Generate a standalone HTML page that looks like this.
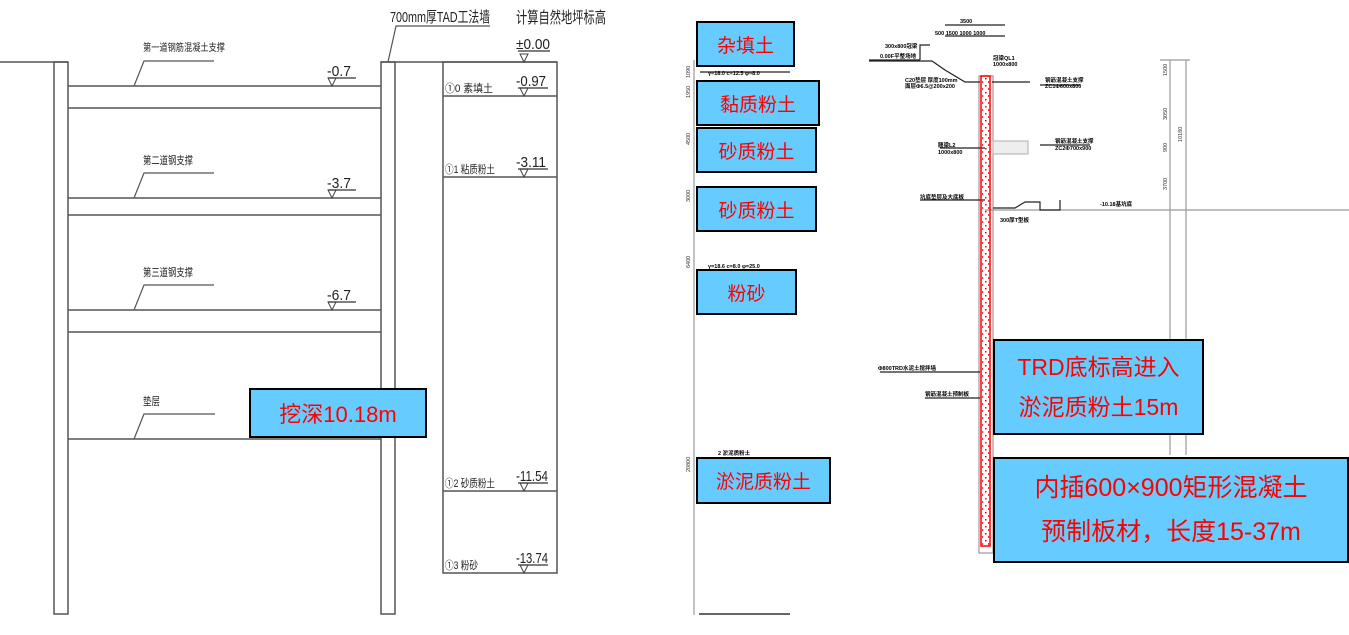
<!DOCTYPE html>
<html><head><meta charset="utf-8"><style>
html,body{margin:0;padding:0;background:#fff;}
body{width:1349px;height:635px;position:relative;overflow:hidden;font-family:"Liberation Sans","Noto Sans CJK SC",sans-serif;}
.box{position:absolute;background:#66ccff;border:2px solid #000;box-sizing:border-box;color:#f00;display:flex;align-items:center;justify-content:center;text-align:center;white-space:nowrap;}
</style></head><body>
<svg width="1349" height="635" style="position:absolute;left:0;top:0" font-family="Liberation Sans, Noto Sans CJK SC, sans-serif">
<defs>
<pattern id="dots" width="6" height="7" patternUnits="userSpaceOnUse">
<rect x="1" y="1" width="1.5" height="1.5" fill="#f00"/><rect x="4" y="4" width="1.2" height="2" fill="#f33"/>
</pattern>
</defs>
<g stroke="#555" stroke-width="1.5" fill="none">
<line x1="0" y1="62" x2="68" y2="62"/>
<rect x="54" y="62" width="14" height="552"/>
<rect x="381" y="62" width="14" height="552"/>
<line x1="381" y1="62" x2="557" y2="62"/>
<line x1="68" y1="86" x2="381" y2="86"/><line x1="68" y1="108" x2="381" y2="108"/>
<line x1="68" y1="198" x2="381" y2="198"/><line x1="68" y1="215" x2="381" y2="215"/>
<line x1="68" y1="310" x2="381" y2="310"/><line x1="68" y1="332" x2="381" y2="332"/>
<line x1="68" y1="439" x2="381" y2="439"/>
<polyline points="134,86 144,61 214,61" stroke-width="1.2"/>
<polyline points="134,198 144,173 214,173" stroke-width="1.2"/>
<polyline points="134,310 144,285 214,285" stroke-width="1.2"/>
<polyline points="134,439 144,414 215,414" stroke-width="1.2"/>
<polyline points="388,62 396,26 490,26" stroke-width="1.2"/>
<rect x="443" y="62" width="114" height="511"/>
<line x1="443" y1="96" x2="557" y2="96"/>
<line x1="443" y1="177" x2="557" y2="177"/>
<line x1="443" y1="491" x2="557" y2="491"/>
<line x1="328" y1="78" x2="356" y2="78"/><line x1="328" y1="190" x2="356" y2="190"/><line x1="328" y1="302" x2="356" y2="302"/>
<line x1="518" y1="51" x2="550" y2="51"/><line x1="518" y1="88" x2="548" y2="88"/><line x1="518" y1="169" x2="548" y2="169"/>
<line x1="518" y1="483" x2="548" y2="483"/><line x1="518" y1="565" x2="548" y2="565"/>
</g>
<g stroke="#444" stroke-width="1" fill="none">
<path d="M328,78 L336,78 L332,86 Z"/><path d="M328,190 L336,190 L332,198 Z"/><path d="M328,302 L336,302 L332,310 Z"/>
<path d="M520,54 L528,54 L524,62 Z"/><path d="M520,88 L528,88 L524,96 Z"/><path d="M520,169 L528,169 L524,177 Z"/>
<path d="M520,483 L528,483 L524,491 Z"/><path d="M520,565 L528,565 L524,573 Z"/>
</g>
<g fill="#222">
<text x="143" y="51" font-size="10" textLength="82" lengthAdjust="spacingAndGlyphs">第一道钢筋混凝土支撑</text>
<text x="143" y="164" font-size="11" textLength="50" lengthAdjust="spacingAndGlyphs">第二道钢支撑</text>
<text x="143" y="276" font-size="11" textLength="50" lengthAdjust="spacingAndGlyphs">第三道钢支撑</text>
<text x="143" y="405" font-size="11" textLength="17" lengthAdjust="spacingAndGlyphs">垫层</text>
<text x="390" y="22" font-size="15" textLength="100" lengthAdjust="spacingAndGlyphs">700mm厚TAD工法墙</text>
<text x="516" y="23" font-size="16" textLength="90" lengthAdjust="spacingAndGlyphs">计算自然地坪标高</text>
<text x="516" y="49" font-size="15" textLength="34" lengthAdjust="spacingAndGlyphs">±0.00</text>
<text x="327" y="76" font-size="15" textLength="24" lengthAdjust="spacingAndGlyphs">-0.7</text>
<text x="327" y="188" font-size="15" textLength="24" lengthAdjust="spacingAndGlyphs">-3.7</text>
<text x="327" y="300" font-size="15" textLength="24" lengthAdjust="spacingAndGlyphs">-6.7</text>
<text x="516" y="86" font-size="15" textLength="30" lengthAdjust="spacingAndGlyphs">-0.97</text>
<text x="516" y="167" font-size="15" textLength="30" lengthAdjust="spacingAndGlyphs">-3.11</text>
<text x="516" y="481" font-size="15" textLength="32" lengthAdjust="spacingAndGlyphs">-11.54</text>
<text x="516" y="563" font-size="15" textLength="32" lengthAdjust="spacingAndGlyphs">-13.74</text>
<text x="445" y="92" font-size="11" textLength="48" lengthAdjust="spacingAndGlyphs">①0 素填土</text>
<text x="445" y="173" font-size="11" textLength="50" lengthAdjust="spacingAndGlyphs">①1 粘质粉土</text>
<text x="445" y="487" font-size="11" textLength="50" lengthAdjust="spacingAndGlyphs">①2 砂质粉土</text>
<text x="445" y="569" font-size="11" textLength="33" lengthAdjust="spacingAndGlyphs">①3 粉砂</text>
</g>
<g stroke="#999" stroke-width="1.2" fill="none">
<line x1="694" y1="60" x2="694" y2="615"/>
<line x1="1170" y1="60" x2="1170" y2="455"/>
<line x1="1186" y1="60" x2="1186" y2="455"/>
<line x1="985" y1="210" x2="1349" y2="210"/>
<line x1="1160" y1="60" x2="1190" y2="60"/>
<rect x="979" y="76" width="14" height="477"/>
</g>
<line x1="699" y1="614" x2="790" y2="614" stroke="#333" stroke-width="1.5"/>
<g stroke="#222" stroke-width="1.2" fill="none">
<line x1="700" y1="72" x2="790" y2="72"/>
<line x1="869" y1="60" x2="920" y2="60"/>
<polyline points="920,60 920,45 930,45"/>
<polyline points="869,61 932,61 945,70 965,82 980,82"/>
<line x1="992" y1="82" x2="1030" y2="82"/>
<line x1="1040" y1="85" x2="1080" y2="85"/>
<line x1="940" y1="148" x2="985" y2="148"/>
<line x1="1040" y1="145" x2="1090" y2="145"/>
<rect x="993" y="141" width="35" height="13" stroke="#bbb" fill="#eee"/>
<line x1="920" y1="200" x2="985" y2="200"/>
<polyline points="993,208 1015,208 1025,202 1040,202 1040,210 1060,210 1060,200"/>
<line x1="945" y1="25" x2="1005" y2="25"/>
<line x1="945" y1="36" x2="1005" y2="36"/>
<line x1="880" y1="372" x2="980" y2="372"/>
<line x1="925" y1="398" x2="980" y2="398"/>
</g>
<rect x="981" y="76" width="9" height="470" fill="url(#dots)" stroke="#f00" stroke-width="1.5"/>
<g fill="#000" font-size="5.5" font-weight="bold">
<text x="960" y="23">3500</text>
<text x="935" y="35">500 1500 1000 1000</text>
<text x="885" y="48">300x800冠梁</text>
<text x="880" y="58">0.00F平整场地</text>
<text x="905" y="82">C20垫层 厚度100mm</text>
<text x="905" y="88">面层Φ6.5@200x200</text>
<text x="993" y="60">冠梁QL1</text>
<text x="993" y="66">1000x800</text>
<text x="1045" y="82">钢筋混凝土支撑</text>
<text x="1045" y="88">ZC1Φ600x800</text>
<text x="938" y="147">腰梁L2</text>
<text x="938" y="154">1000x800</text>
<text x="1055" y="143">钢筋混凝土支撑</text>
<text x="1055" y="150">ZC2Φ700x900</text>
<text x="920" y="199">坑底垫层及大底板</text>
<text x="1000" y="222">300厚T型板</text>
<text x="1100" y="206">-10.18基坑底</text>
<text x="878" y="370">Φ800TRD水泥土搅拌墙</text>
<text x="925" y="396">钢筋混凝土预制板</text>
<text x="708" y="75">γ=18.0 c=12.5 φ=8.0</text>
<text x="708" y="268">γ=18.6 c=8.0 φ=25.0</text>
<text x="718" y="455">2 淤泥质粉土</text>
</g>
<g fill="#333" font-size="5.5">
<text transform="translate(690,78) rotate(-90)">1090</text>
<text transform="translate(690,98) rotate(-90)">1950</text>
<text transform="translate(690,145) rotate(-90)">4500</text>
<text transform="translate(690,202) rotate(-90)">3000</text>
<text transform="translate(690,268) rotate(-90)">6400</text>
<text transform="translate(690,472) rotate(-90)">20800</text>
<text transform="translate(1167,76) rotate(-90)">1500</text>
<text transform="translate(1167,120) rotate(-90)">3050</text>
<text transform="translate(1167,152) rotate(-90)">900</text>
<text transform="translate(1167,190) rotate(-90)">3700</text>
<text transform="translate(1182,142) rotate(-90)">10180</text>
</g>
</svg>

<div class="box" style="left:249px;top:388px;width:178px;height:50px;font-size:22px;">挖深10.18m</div>
<div class="box" style="left:696px;top:21px;width:99px;height:46px;font-size:19px;">杂填土</div>
<div class="box" style="left:696px;top:80px;width:124px;height:46px;font-size:19px;">黏质粉土</div>
<div class="box" style="left:696px;top:127px;width:121px;height:46px;font-size:19px;">砂质粉土</div>
<div class="box" style="left:696px;top:186px;width:121px;height:46px;font-size:19px;">砂质粉土</div>
<div class="box" style="left:696px;top:269px;width:101px;height:46px;font-size:19px;">粉砂</div>
<div class="box" style="left:696px;top:457px;width:135px;height:47px;font-size:19px;">淤泥质粉土</div>
<div class="box" style="left:993px;top:339px;width:211px;height:96px;font-size:23px;line-height:40px;">TRD底标高进入<br>淤泥质粉土15m</div>
<div class="box" style="left:993px;top:457px;width:356px;height:106px;font-size:25px;line-height:44px;">内插600×900矩形混凝土<br>预制板材，长度15-37m</div>
</body></html>
